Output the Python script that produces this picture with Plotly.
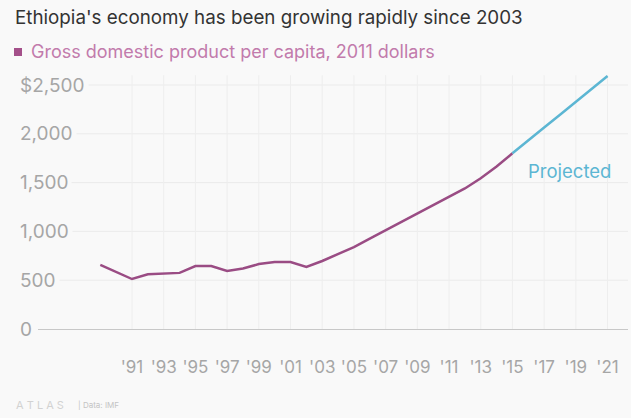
import plotly.graph_objects as go

# Ethiopia GDP per capita (2011 dollars), IMF; values after 2015 are projections
years = list(range(1989, 2022))
gdp_per_capita = [656, 584, 512, 560, 568, 575, 645, 645, 594, 620, 665, 686, 686,
                  635, 697, 765, 840, 925, 1010, 1095, 1180, 1270, 1350, 1440, 1545,
                  1665, 1800, 1935, 2065, 2195, 2325, 2460, 2592]
last_actual_year = 2015

tick_years = list(range(1991, 2022, 2))
tick_labels = ["'" + str(y)[2:] for y in tick_years]
y_ticks = [0, 500, 1000, 1500, 2000, 2500]
y_tick_labels = ["0", "500", "1,000", "1,500", "2,000", "$2,500"]

title_text = "Ethiopia's economy has been growing rapidly since 2003"
legend_text = "Gross domestic product per capita, 2011 dollars"

BG = "#f9f9f9"
PURPLE = "#9a4c84"
PINK_TEXT = "#c27bac"
BLUE = "#5cb6d3"
GREY_TEXT = "#a6a6a6"
FONT = "Inter"

W, H = 631, 418
L, R, T, B = 38, 3, 70, 89
plot_h = H - T - B


def py(pix_y):
    """Convert a pixel row to paper y."""
    return (H - B - pix_y) / plot_h


def px(pix_x):
    """Convert a pixel column to paper x."""
    return (pix_x - L) / (W - L - R)


actual_x = [y for y in years if y <= last_actual_year]
actual_y = gdp_per_capita[:len(actual_x)]
proj_x = [y for y in years if y >= last_actual_year]
proj_y = gdp_per_capita[len(actual_x) - 1:]

fig = go.Figure()
fig.add_trace(go.Scatter(x=actual_x, y=actual_y, mode="lines",
                         line=dict(color=PURPLE, width=2.5), hoverinfo="skip"))
fig.add_trace(go.Scatter(x=proj_x, y=proj_y, mode="lines",
                         line=dict(color=BLUE, width=2.5), hoverinfo="skip"))

shapes = []
for v in y_ticks[1:]:
    shapes.append(dict(type="line", xref="paper", x0=0, x1=1, yref="y", y0=v, y1=v,
                       line=dict(color="#ebebeb", width=1), layer="below"))
for yr in tick_years:
    shapes.append(dict(type="line", xref="x", x0=yr, x1=yr, yref="y", y0=0, y1=2600,
                       line=dict(color="#eeeeee", width=1), layer="below"))
# legend swatch
shapes.append(dict(type="rect", xref="paper", yref="paper",
                   x0=px(14), x1=px(22), y0=py(56), y1=py(48),
                   fillcolor="#a4508a", line=dict(width=0)))

annotations = []
for v, lab in zip(y_ticks, y_tick_labels):
    annotations.append(dict(xref="paper", x=px(16), yref="y", y=v, text=lab,
                            xanchor="left", yanchor="middle", showarrow=False,
                            bgcolor=BG, borderpad=3,
                            font=dict(family=FONT, size=19, color=GREY_TEXT)))
annotations += [
    dict(xref="paper", x=px(13), yref="paper", y=py(18), text=title_text,
         xanchor="left", yanchor="middle", showarrow=False,
         font=dict(family=FONT, size=18.8, color="#333333")),
    dict(xref="paper", x=px(29), yref="paper", y=py(52), text=legend_text,
         xanchor="left", yanchor="middle", showarrow=False,
         font=dict(family=FONT, size=18, color=PINK_TEXT)),
    dict(xref="x", x=2018.6, yref="y", y=1620, text="Projected",
         xanchor="center", yanchor="middle", showarrow=False,
         font=dict(family=FONT, size=18.5, color=BLUE)),
    dict(xref="paper", x=px(14), yref="paper", y=py(405), text="A T L A S",
         xanchor="left", yanchor="middle", showarrow=False,
         font=dict(family=FONT, size=11, color="#d2d2d2")),
    dict(xref="paper", x=px(76), yref="paper", y=py(405), text="| Data: IMF",
         xanchor="left", yanchor="middle", showarrow=False,
         font=dict(family=FONT, size=8, color="#c4c4c4")),
]

fig.update_layout(
    width=W, height=H,
    margin=dict(l=L, r=R, t=T, b=B),
    paper_bgcolor=BG, plot_bgcolor=BG,
    showlegend=False,
    shapes=shapes,
    annotations=annotations,
    xaxis=dict(range=[1985.07, 2022.29], tickvals=tick_years, ticktext=tick_labels,
               showgrid=False, zeroline=False, showline=True, linecolor="#c8c8c8",
               linewidth=1, ticks="", ticklabelstandoff=23,
               tickfont=dict(family=FONT, size=17, color=GREY_TEXT), fixedrange=True),
    yaxis=dict(range=[0, 2653.7], showgrid=False, zeroline=False,
               showticklabels=False, fixedrange=True),
)

fig.write_html("out.html")
